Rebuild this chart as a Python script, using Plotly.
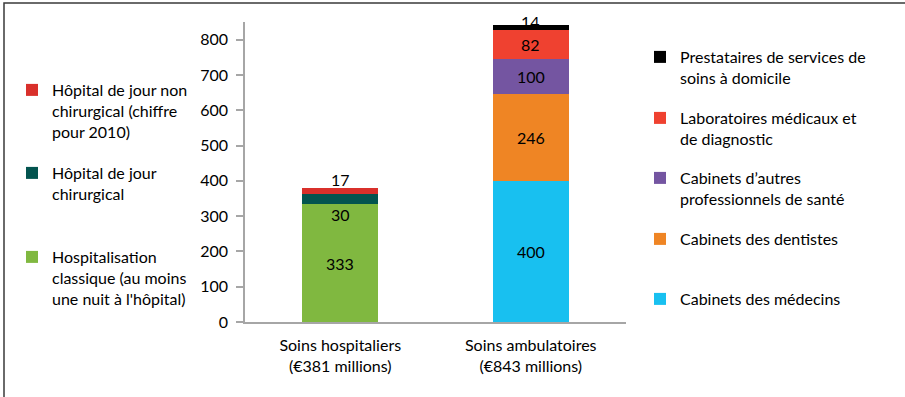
import plotly.graph_objects as go

categories = ["Soins hospitaliers<br>(€381 millions)", "Soins ambulatoires<br>(€843 millions)"]

hosp_names = [
    "Hospitalisation<br>classique (au moins<br>une nuit à l'hôpital)",
    "Hôpital de jour<br>chirurgical",
    "Hôpital de jour non<br>chirurgical (chiffre<br>pour 2010)",
]
hosp_values = [333, 30, 17]
hosp_colors = ["#80b840", "#03544f", "#d9302b"]

amb_names = [
    "Cabinets des médecins",
    "Cabinets des dentistes",
    "Cabinets d’autres<br>professionnels de santé",
    "Laboratoires médicaux et<br>de diagnostic",
    "Prestataires de services de<br>soins à domicile",
]
amb_values = [400, 246, 100, 82, 14]
amb_colors = ["#18c0f0", "#ef8524", "#7455a1", "#ef4130", "#000000"]

y_ticks = [0, 100, 200, 300, 400, 500, 600, 700, 800]

FONT = "Lato"
FS = 16
W, H = 905, 397
ML, MR, MT, MB = 245, 279, 22, 75
PW, PH = W - ML - MR, H - MT - MB


def px_x(px):
    return (px - ML) / PW


def px_y(py):
    return (H - MB - py) / PH


fig = go.Figure()

# legend positions (pixel coordinates of first text line centres)
left_text_x = 52
right_text_x = 680
hosp_leg_y = [256, 172, 89]
amb_leg_y = [298, 238, 177, 117, 56]

legends = {}
leg_idx = 1
annotations = []

for name, val, col, ly in zip(hosp_names, hosp_values, hosp_colors, hosp_leg_y):
    lname = "legend" if leg_idx == 1 else f"legend{leg_idx}"
    fig.add_trace(go.Bar(
        x=[categories[0]], y=[val], name=name, marker_color=col,
        marker_line_width=0, legend=lname, showlegend=True,
    ))
    legends[lname] = dict(x=px_x(left_text_x - 40), y=px_y(ly - 16), xanchor="left", yanchor="top",
                          bgcolor="rgba(0,0,0,0)", valign="top",
                          font=dict(family=FONT, size=FS, color="#000"))
    leg_idx += 1

# hospital labels
cum = 0
for i, val in enumerate(hosp_values):
    if i == 0:
        annotations.append(dict(x=categories[0], y=cum + val / 2, text=str(val), showarrow=False))
    elif i == 1:
        annotations.append(dict(x=categories[0], y=cum, text=str(val), showarrow=False, yanchor="top", yshift=1))
    else:
        annotations.append(dict(x=categories[0], y=cum + val, text=str(val), showarrow=False, yanchor="bottom", yshift=-3))
    cum += val

for name, val, col, ly in zip(amb_names, amb_values, amb_colors, amb_leg_y):
    lname = f"legend{leg_idx}"
    fig.add_trace(go.Bar(
        x=[categories[1]], y=[val], name=name, marker_color=col,
        marker_line_width=0, legend=lname, showlegend=True,
    ))
    legends[lname] = dict(x=px_x(right_text_x - 40), y=px_y(ly - 16), xanchor="left", yanchor="top",
                          bgcolor="rgba(0,0,0,0)", valign="top",
                          font=dict(family=FONT, size=FS, color="#000"))
    leg_idx += 1

cum = 0
for i, val in enumerate(amb_values):
    if i == len(amb_values) - 1:
        annotations.append(dict(x=categories[1], y=cum + val, text=str(val), showarrow=False, yanchor="middle", yshift=3))
    else:
        annotations.append(dict(x=categories[1], y=cum + val / 2, text=str(val), showarrow=False))
    cum += val

for a in annotations:
    a["font"] = dict(family=FONT, size=FS, color="#000")

fig.update_layout(
    barmode="stack",
    bargap=0.6,
    width=W, height=H,
    margin=dict(l=ML, r=MR, t=MT, b=MB, pad=0),
    paper_bgcolor="white", plot_bgcolor="white",
    font=dict(family=FONT, size=FS, color="#000"),
    annotations=annotations,
    shapes=[dict(type="rect", xref="paper", yref="paper",
                 x0=px_x(4), x1=px_x(912), y0=px_y(404), y1=px_y(3),
                 line=dict(color="#3a3a3a", width=1.5), fillcolor="rgba(0,0,0,0)", layer="below")],
    **legends,
)

fig.update_xaxes(showline=True, linecolor="#a6a6a6", linewidth=2, ticks="", showgrid=False,
                 ticklabelstandoff=8,
                 tickfont=dict(family=FONT, size=FS, color="#000"), fixedrange=True)
fig.update_yaxes(range=[0, 850], tickvals=y_ticks, showline=True, linecolor="#a6a6a6", linewidth=1.5,
                 ticks="outside", ticklen=7, tickcolor="#a6a6a6", tickwidth=1.5, showgrid=False,
                 ticklabelstandoff=5,
                 zeroline=False, tickfont=dict(family=FONT, size=FS, color="#000"), fixedrange=True)

fig.write_html("out.html")
